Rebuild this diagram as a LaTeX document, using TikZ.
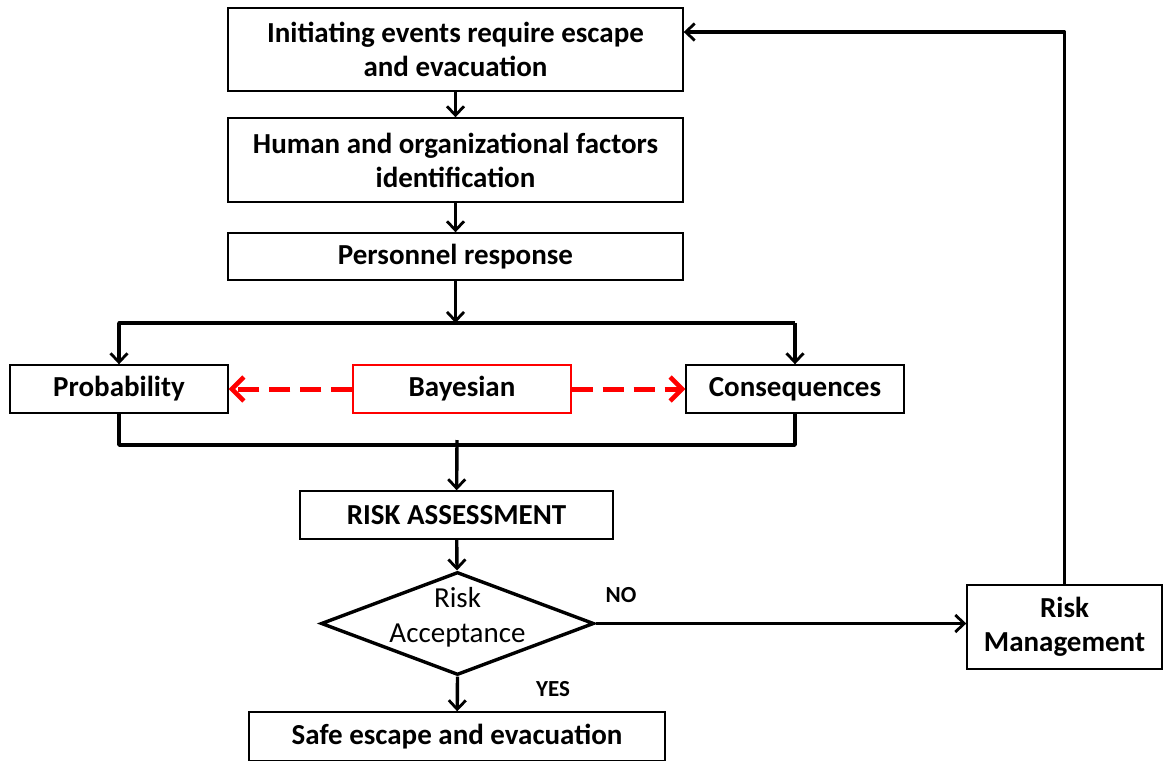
\documentclass[tikz,border=0pt]{standalone}
\usepackage{fontspec}
\setmainfont{Carlito}
\usetikzlibrary{arrows.meta,shapes.geometric}
\begin{document}
\begin{tikzpicture}[x=1pt,y=-1pt,
  box/.style={draw,line width=1.4pt,rectangle,inner sep=0pt,align=center,
    font=\fontsize{29}{34}\selectfont\bfseries},
  flow/.style={line width=3.4pt,-{Straight Barb[length=9pt,width=17pt,line width=2.8pt]}},
  plain/.style={line width=3.4pt,line join=round},
  bayes/.style={red,line width=5pt,dash pattern=on 21pt off 10pt,
    -{Straight Barb[length=12pt,width=24pt,line width=4.5pt]}},
  tag/.style={font=\fontsize{23}{26}\selectfont\bfseries}]
\useasboundingbox (0,0) rectangle (1163,761);

% process boxes
\node[box,minimum width=455pt,minimum height=83pt] (init) at (455.5,49.5)
  {Initiating events require escape\\and evacuation};
\node[box,minimum width=455pt,minimum height=84pt] (hof) at (455.5,160)
  {Human and organizational factors\\identification};
\node[box,minimum width=455pt,minimum height=47pt] (pers) at (455.5,256.5)
  {Personnel response};
\node[box,minimum width=218pt,minimum height=48pt] (prob) at (119,389)
  {Probability};
\node[box,draw=red,line width=1.4pt,minimum width=218pt,minimum height=48pt] (bay) at (462,389)
  {Bayesian};
\node[box,minimum width=218pt,minimum height=48pt] (cons) at (795,389)
  {Consequences};
\node[box,minimum width=313pt,minimum height=48pt] (ra) at (456.5,515)
  {RISK ASSESSMENT};
\node[draw,diamond,line width=3.4pt,inner sep=0pt,aspect=2.65,
  minimum width=273pt,minimum height=103pt] (dia) at (457.5,623.5) {};
\node[align=center,font=\fontsize{29}{35}\selectfont] (acc) at (457.5,617)
  {Risk\\Acceptance};
\node[box,minimum width=416pt,minimum height=49pt] (safe) at (457,736.5)
  {Safe escape and evacuation};
\node[box,minimum width=195pt,minimum height=84pt] (rm) at (1064.5,627)
  {Risk\\Management};

% branch points and the return corner
\coordinate (split) at (455.5,323);
\coordinate (join) at (457,445);
\coordinate (ret) at (1064.5,32);

% main flow
\draw[flow] (init) -- (hof);
\draw[flow] (hof) -- (pers);
\draw[flow] (pers) -- (split);
\draw[plain] (split) -- (split -| prob) -- (split -| cons);
\draw[flow] (split -| prob) -- (prob);
\draw[flow] (split -| cons) -- (cons);
\draw[plain] (prob.south) -- (join -| prob) -- (join -| cons) -- (cons.south);
\draw[flow] ([yshift=5pt]join) -- (ra);
\draw[flow] (ra) -- (dia);
\draw[flow] (dia.south) -- (safe);
\draw[flow] (dia.east) -- (rm.west |- dia.east);
\draw[flow,line join=round] (rm.north) -- (ret) -- (init.east |- ret);

% Bayesian links
\draw[bayes] (bay.west) -- (prob.east);
\draw[bayes] (bay.east) -- (cons.west);

% decision labels
\node[tag] (no) at (621,595) {NO};
\node[tag] (yes) at (553,689) {YES};
\end{tikzpicture}
\end{document}
